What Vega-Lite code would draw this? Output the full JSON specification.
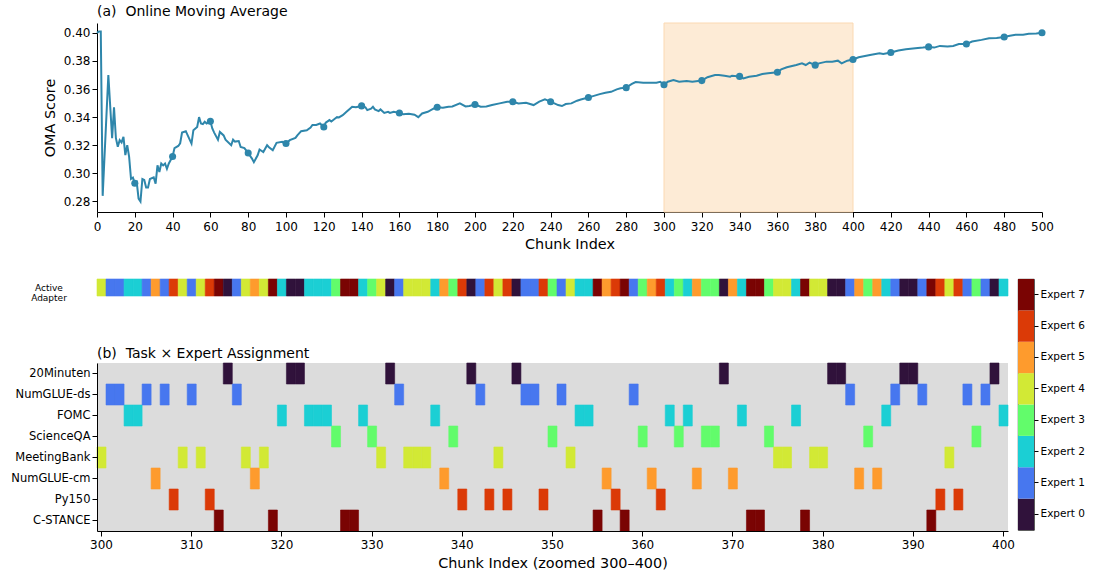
{
  "$schema": "https://vega.github.io/schema/vega-lite/v6.json",
  "padding": {"left": 10, "top": 4, "right": 5, "bottom": 5},
  "config": {
    "font": "DejaVu Sans",
    "view": {"stroke": null},
    "axis": {
      "domainColor": "#000", "tickColor": "#000", "labelColor": "#000", "titleColor": "#000",
      "labelFont": "DejaVu Sans", "titleFont": "DejaVu Sans", "titleFontWeight": "normal",
      "grid": false, "labelFontSize": 12, "titleFontSize": 14.4, "tickSize": 5,
      "domainWidth": 1, "tickWidth": 1, "labelOverlap": false
    },
    "title": {"font": "DejaVu Sans", "fontWeight": "normal", "fontSize": 14, "anchor": "start", "color": "#000", "frame": "group"}
  },
  "datasets": {
    "oma": [
      {"chunk": 0, "oma": 0.400}, {"chunk": 1, "oma": 0.401}, {"chunk": 2, "oma": 0.401},
      {"chunk": 3, "oma": 0.284}, {"chunk": 6, "oma": 0.370}, {"chunk": 8, "oma": 0.325},
      {"chunk": 9, "oma": 0.347}, {"chunk": 10, "oma": 0.325}, {"chunk": 11, "oma": 0.319},
      {"chunk": 12, "oma": 0.3236}, {"chunk": 13, "oma": 0.322}, {"chunk": 14, "oma": 0.326},
      {"chunk": 15, "oma": 0.313}, {"chunk": 16, "oma": 0.320}, {"chunk": 17, "oma": 0.3117},
      {"chunk": 18, "oma": 0.296}, {"chunk": 19, "oma": 0.297}, {"chunk": 20, "oma": 0.293},
      {"chunk": 21, "oma": 0.294}, {"chunk": 22, "oma": 0.282}, {"chunk": 23, "oma": 0.280},
      {"chunk": 24, "oma": 0.296}, {"chunk": 25, "oma": 0.2953}, {"chunk": 26, "oma": 0.290},
      {"chunk": 27, "oma": 0.290}, {"chunk": 28, "oma": 0.296}, {"chunk": 30, "oma": 0.2972},
      {"chunk": 31, "oma": 0.2926}, {"chunk": 32, "oma": 0.3057}, {"chunk": 33, "oma": 0.301},
      {"chunk": 34, "oma": 0.307}, {"chunk": 35, "oma": 0.3057}, {"chunk": 36, "oma": 0.307},
      {"chunk": 37, "oma": 0.3033}, {"chunk": 38, "oma": 0.307}, {"chunk": 40, "oma": 0.312},
      {"chunk": 41, "oma": 0.318}, {"chunk": 43, "oma": 0.3195}, {"chunk": 44, "oma": 0.3214},
      {"chunk": 45, "oma": 0.329}, {"chunk": 47, "oma": 0.330}, {"chunk": 48, "oma": 0.327},
      {"chunk": 50, "oma": 0.3212}, {"chunk": 51, "oma": 0.3307}, {"chunk": 53, "oma": 0.333},
      {"chunk": 54, "oma": 0.340}, {"chunk": 55, "oma": 0.3355}, {"chunk": 56, "oma": 0.335},
      {"chunk": 57, "oma": 0.3367}, {"chunk": 58, "oma": 0.3355}, {"chunk": 60, "oma": 0.337},
      {"chunk": 61, "oma": 0.332}, {"chunk": 62, "oma": 0.329}, {"chunk": 64, "oma": 0.324},
      {"chunk": 65, "oma": 0.3295}, {"chunk": 67, "oma": 0.327}, {"chunk": 68, "oma": 0.324},
      {"chunk": 71, "oma": 0.320}, {"chunk": 72, "oma": 0.324}, {"chunk": 73, "oma": 0.3226},
      {"chunk": 75, "oma": 0.323}, {"chunk": 76, "oma": 0.3188}, {"chunk": 78, "oma": 0.318},
      {"chunk": 80, "oma": 0.3145}, {"chunk": 82, "oma": 0.3105}, {"chunk": 83, "oma": 0.308},
      {"chunk": 85, "oma": 0.3129}, {"chunk": 86, "oma": 0.317}, {"chunk": 88, "oma": 0.3152},
      {"chunk": 90, "oma": 0.320}, {"chunk": 91, "oma": 0.3186}, {"chunk": 93, "oma": 0.3164},
      {"chunk": 95, "oma": 0.3217}, {"chunk": 98, "oma": 0.3224}, {"chunk": 100, "oma": 0.3212},
      {"chunk": 102, "oma": 0.3236}, {"chunk": 105, "oma": 0.3252}, {"chunk": 106, "oma": 0.327},
      {"chunk": 108, "oma": 0.330}, {"chunk": 111, "oma": 0.3307}, {"chunk": 113, "oma": 0.3326},
      {"chunk": 114, "oma": 0.3345}, {"chunk": 116, "oma": 0.3345}, {"chunk": 118, "oma": 0.3355},
      {"chunk": 120, "oma": 0.333}, {"chunk": 121, "oma": 0.336}, {"chunk": 123, "oma": 0.3379},
      {"chunk": 124, "oma": 0.3369}, {"chunk": 126, "oma": 0.339}, {"chunk": 127, "oma": 0.340},
      {"chunk": 128, "oma": 0.3398}, {"chunk": 130, "oma": 0.3414}, {"chunk": 131, "oma": 0.3426},
      {"chunk": 132, "oma": 0.3438}, {"chunk": 134, "oma": 0.3462}, {"chunk": 135, "oma": 0.3474},
      {"chunk": 137, "oma": 0.3471}, {"chunk": 140, "oma": 0.348}, {"chunk": 142, "oma": 0.347},
      {"chunk": 143, "oma": 0.345}, {"chunk": 145, "oma": 0.346}, {"chunk": 146, "oma": 0.3474},
      {"chunk": 147, "oma": 0.3455}, {"chunk": 149, "oma": 0.3443}, {"chunk": 150, "oma": 0.3455},
      {"chunk": 152, "oma": 0.343}, {"chunk": 154, "oma": 0.3438}, {"chunk": 155, "oma": 0.343},
      {"chunk": 157, "oma": 0.3438}, {"chunk": 160, "oma": 0.343}, {"chunk": 162, "oma": 0.3421},
      {"chunk": 165, "oma": 0.3424}, {"chunk": 168, "oma": 0.3417}, {"chunk": 170, "oma": 0.340},
      {"chunk": 172, "oma": 0.3426}, {"chunk": 175, "oma": 0.3438}, {"chunk": 178, "oma": 0.346},
      {"chunk": 180, "oma": 0.347}, {"chunk": 183, "oma": 0.3467}, {"chunk": 186, "oma": 0.3474},
      {"chunk": 188, "oma": 0.3476}, {"chunk": 192, "oma": 0.3498}, {"chunk": 195, "oma": 0.3476},
      {"chunk": 197, "oma": 0.348}, {"chunk": 200, "oma": 0.349}, {"chunk": 203, "oma": 0.3474},
      {"chunk": 206, "oma": 0.3476}, {"chunk": 209, "oma": 0.3486}, {"chunk": 213, "oma": 0.3498},
      {"chunk": 217, "oma": 0.351}, {"chunk": 220, "oma": 0.351}, {"chunk": 223, "oma": 0.3498},
      {"chunk": 227, "oma": 0.3502}, {"chunk": 231, "oma": 0.3486}, {"chunk": 234, "oma": 0.351},
      {"chunk": 237, "oma": 0.3526}, {"chunk": 240, "oma": 0.351}, {"chunk": 244, "oma": 0.3486},
      {"chunk": 246, "oma": 0.3479}, {"chunk": 248, "oma": 0.3493}, {"chunk": 251, "oma": 0.3498},
      {"chunk": 254, "oma": 0.3517}, {"chunk": 256, "oma": 0.3526}, {"chunk": 260, "oma": 0.354},
      {"chunk": 262, "oma": 0.3548}, {"chunk": 266, "oma": 0.3564}, {"chunk": 269, "oma": 0.3574},
      {"chunk": 272, "oma": 0.358}, {"chunk": 275, "oma": 0.3598}, {"chunk": 277, "oma": 0.3605},
      {"chunk": 280, "oma": 0.361}, {"chunk": 283, "oma": 0.3636}, {"chunk": 285, "oma": 0.365},
      {"chunk": 289, "oma": 0.3645}, {"chunk": 292, "oma": 0.3645}, {"chunk": 296, "oma": 0.3645},
      {"chunk": 298, "oma": 0.3652}, {"chunk": 300, "oma": 0.363}, {"chunk": 302, "oma": 0.3652},
      {"chunk": 305, "oma": 0.3664}, {"chunk": 308, "oma": 0.3652}, {"chunk": 312, "oma": 0.3657},
      {"chunk": 315, "oma": 0.3652}, {"chunk": 320, "oma": 0.366}, {"chunk": 323, "oma": 0.3684},
      {"chunk": 327, "oma": 0.370}, {"chunk": 329, "oma": 0.370}, {"chunk": 332, "oma": 0.3695},
      {"chunk": 335, "oma": 0.3688}, {"chunk": 336, "oma": 0.3695}, {"chunk": 340, "oma": 0.369},
      {"chunk": 342, "oma": 0.3676}, {"chunk": 345, "oma": 0.3688}, {"chunk": 349, "oma": 0.3695},
      {"chunk": 352, "oma": 0.3707}, {"chunk": 355, "oma": 0.3712}, {"chunk": 360, "oma": 0.372},
      {"chunk": 362, "oma": 0.374}, {"chunk": 365, "oma": 0.3755}, {"chunk": 370, "oma": 0.3771},
      {"chunk": 373, "oma": 0.3783}, {"chunk": 375, "oma": 0.3771}, {"chunk": 377, "oma": 0.3788},
      {"chunk": 380, "oma": 0.377}, {"chunk": 382, "oma": 0.3783}, {"chunk": 386, "oma": 0.3795},
      {"chunk": 389, "oma": 0.3795}, {"chunk": 392, "oma": 0.3802}, {"chunk": 394, "oma": 0.3783},
      {"chunk": 397, "oma": 0.3802}, {"chunk": 400, "oma": 0.381}, {"chunk": 403, "oma": 0.3826},
      {"chunk": 409, "oma": 0.3843}, {"chunk": 414, "oma": 0.3855}, {"chunk": 416, "oma": 0.385},
      {"chunk": 420, "oma": 0.386}, {"chunk": 424, "oma": 0.3874}, {"chunk": 428, "oma": 0.3883},
      {"chunk": 433, "oma": 0.389}, {"chunk": 437, "oma": 0.3895}, {"chunk": 440, "oma": 0.390},
      {"chunk": 443, "oma": 0.3895}, {"chunk": 446, "oma": 0.3907}, {"chunk": 450, "oma": 0.3902},
      {"chunk": 453, "oma": 0.3907}, {"chunk": 456, "oma": 0.3921}, {"chunk": 460, "oma": 0.392},
      {"chunk": 463, "oma": 0.3938}, {"chunk": 468, "oma": 0.395}, {"chunk": 472, "oma": 0.3962},
      {"chunk": 476, "oma": 0.3964}, {"chunk": 480, "oma": 0.397}, {"chunk": 483, "oma": 0.3979},
      {"chunk": 486, "oma": 0.3986}, {"chunk": 490, "oma": 0.3986}, {"chunk": 493, "oma": 0.3993},
      {"chunk": 497, "oma": 0.3995}, {"chunk": 500, "oma": 0.400}
    ],
    "zoomWindow": [{"from": 300, "to": 400}],
    "assign": [
      {"chunk": 300, "task": "MeetingBank", "expert": 4}, {"chunk": 301, "task": "NumGLUE-ds", "expert": 1},
      {"chunk": 302, "task": "NumGLUE-ds", "expert": 1}, {"chunk": 303, "task": "FOMC", "expert": 2},
      {"chunk": 304, "task": "FOMC", "expert": 2}, {"chunk": 305, "task": "NumGLUE-ds", "expert": 1},
      {"chunk": 306, "task": "NumGLUE-cm", "expert": 5}, {"chunk": 307, "task": "NumGLUE-ds", "expert": 1},
      {"chunk": 308, "task": "Py150", "expert": 6}, {"chunk": 309, "task": "MeetingBank", "expert": 4},
      {"chunk": 310, "task": "NumGLUE-ds", "expert": 1}, {"chunk": 311, "task": "MeetingBank", "expert": 4},
      {"chunk": 312, "task": "Py150", "expert": 6}, {"chunk": 313, "task": "C-STANCE", "expert": 7},
      {"chunk": 314, "task": "20Minuten", "expert": 0}, {"chunk": 315, "task": "NumGLUE-ds", "expert": 1},
      {"chunk": 316, "task": "MeetingBank", "expert": 4}, {"chunk": 317, "task": "NumGLUE-cm", "expert": 5},
      {"chunk": 318, "task": "MeetingBank", "expert": 4}, {"chunk": 319, "task": "C-STANCE", "expert": 7},
      {"chunk": 320, "task": "FOMC", "expert": 2}, {"chunk": 321, "task": "20Minuten", "expert": 0},
      {"chunk": 322, "task": "20Minuten", "expert": 0}, {"chunk": 323, "task": "FOMC", "expert": 2},
      {"chunk": 324, "task": "FOMC", "expert": 2}, {"chunk": 325, "task": "FOMC", "expert": 2},
      {"chunk": 326, "task": "ScienceQA", "expert": 3}, {"chunk": 327, "task": "C-STANCE", "expert": 7},
      {"chunk": 328, "task": "C-STANCE", "expert": 7}, {"chunk": 329, "task": "FOMC", "expert": 2},
      {"chunk": 330, "task": "ScienceQA", "expert": 3}, {"chunk": 331, "task": "MeetingBank", "expert": 4},
      {"chunk": 332, "task": "20Minuten", "expert": 0}, {"chunk": 333, "task": "NumGLUE-ds", "expert": 1},
      {"chunk": 334, "task": "MeetingBank", "expert": 4}, {"chunk": 335, "task": "MeetingBank", "expert": 4},
      {"chunk": 336, "task": "MeetingBank", "expert": 4}, {"chunk": 337, "task": "FOMC", "expert": 2},
      {"chunk": 338, "task": "NumGLUE-cm", "expert": 5}, {"chunk": 339, "task": "ScienceQA", "expert": 3},
      {"chunk": 340, "task": "Py150", "expert": 6}, {"chunk": 341, "task": "20Minuten", "expert": 0},
      {"chunk": 342, "task": "NumGLUE-ds", "expert": 1}, {"chunk": 343, "task": "Py150", "expert": 6},
      {"chunk": 344, "task": "MeetingBank", "expert": 4}, {"chunk": 345, "task": "Py150", "expert": 6},
      {"chunk": 346, "task": "20Minuten", "expert": 0}, {"chunk": 347, "task": "NumGLUE-ds", "expert": 1},
      {"chunk": 348, "task": "NumGLUE-ds", "expert": 1}, {"chunk": 349, "task": "Py150", "expert": 6},
      {"chunk": 350, "task": "ScienceQA", "expert": 3}, {"chunk": 351, "task": "NumGLUE-ds", "expert": 1},
      {"chunk": 352, "task": "MeetingBank", "expert": 4}, {"chunk": 353, "task": "FOMC", "expert": 2},
      {"chunk": 354, "task": "FOMC", "expert": 2}, {"chunk": 355, "task": "C-STANCE", "expert": 7},
      {"chunk": 356, "task": "NumGLUE-cm", "expert": 5}, {"chunk": 357, "task": "Py150", "expert": 6},
      {"chunk": 358, "task": "C-STANCE", "expert": 7}, {"chunk": 359, "task": "NumGLUE-ds", "expert": 1},
      {"chunk": 360, "task": "ScienceQA", "expert": 3}, {"chunk": 361, "task": "NumGLUE-cm", "expert": 5},
      {"chunk": 362, "task": "Py150", "expert": 6}, {"chunk": 363, "task": "FOMC", "expert": 2},
      {"chunk": 364, "task": "ScienceQA", "expert": 3}, {"chunk": 365, "task": "FOMC", "expert": 2},
      {"chunk": 366, "task": "NumGLUE-cm", "expert": 5}, {"chunk": 367, "task": "ScienceQA", "expert": 3},
      {"chunk": 368, "task": "ScienceQA", "expert": 3}, {"chunk": 369, "task": "20Minuten", "expert": 0},
      {"chunk": 370, "task": "NumGLUE-cm", "expert": 5}, {"chunk": 371, "task": "FOMC", "expert": 2},
      {"chunk": 372, "task": "C-STANCE", "expert": 7}, {"chunk": 373, "task": "C-STANCE", "expert": 7},
      {"chunk": 374, "task": "ScienceQA", "expert": 3}, {"chunk": 375, "task": "MeetingBank", "expert": 4},
      {"chunk": 376, "task": "MeetingBank", "expert": 4}, {"chunk": 377, "task": "FOMC", "expert": 2},
      {"chunk": 378, "task": "C-STANCE", "expert": 7}, {"chunk": 379, "task": "MeetingBank", "expert": 4},
      {"chunk": 380, "task": "MeetingBank", "expert": 4}, {"chunk": 381, "task": "20Minuten", "expert": 0},
      {"chunk": 382, "task": "20Minuten", "expert": 0}, {"chunk": 383, "task": "NumGLUE-ds", "expert": 1},
      {"chunk": 384, "task": "NumGLUE-cm", "expert": 5}, {"chunk": 385, "task": "ScienceQA", "expert": 3},
      {"chunk": 386, "task": "NumGLUE-cm", "expert": 5}, {"chunk": 387, "task": "FOMC", "expert": 2},
      {"chunk": 388, "task": "NumGLUE-ds", "expert": 1}, {"chunk": 389, "task": "20Minuten", "expert": 0},
      {"chunk": 390, "task": "20Minuten", "expert": 0}, {"chunk": 391, "task": "NumGLUE-ds", "expert": 1},
      {"chunk": 392, "task": "C-STANCE", "expert": 7}, {"chunk": 393, "task": "Py150", "expert": 6},
      {"chunk": 394, "task": "MeetingBank", "expert": 4}, {"chunk": 395, "task": "Py150", "expert": 6},
      {"chunk": 396, "task": "NumGLUE-ds", "expert": 1}, {"chunk": 397, "task": "ScienceQA", "expert": 3},
      {"chunk": 398, "task": "NumGLUE-ds", "expert": 1}, {"chunk": 399, "task": "20Minuten", "expert": 0},
      {"chunk": 400, "task": "FOMC", "expert": 2}
    ],
    "experts": [
      {"expert": 0}, {"expert": 1}, {"expert": 2}, {"expert": 3},
      {"expert": 4}, {"expert": 5}, {"expert": 6}, {"expert": 7}
    ]
  },
  "spacing": 27,
  "vconcat": [
    {
      "title": {"text": "(a)\u00a0 Online Moving Average", "offset": 4},
      "width": 945,
      "height": 189,
      "layer": [
        {
          "data": {"name": "zoomWindow"},
          "mark": {"type": "rect", "color": "#fdebd6", "stroke": "#fbd9b2", "strokeWidth": 1},
          "encoding": {
            "x": {"field": "from", "type": "quantitative", "scale": {"domain": [0, 500], "nice": false},
                  "axis": {"title": "Chunk Index", "values": [0,20,40,60,80,100,120,140,160,180,200,220,240,260,280,300,320,340,360,380,400,420,440,460,480,500], "tickCount": 40, "labelFlush": false, "labelOverlap": false, "labelPadding": 4, "titlePadding": 5}},
            "x2": {"field": "to"}
          }
        },
        {
          "data": {"name": "oma"},
          "mark": {"type": "line", "color": "#2e86ab", "strokeWidth": 2, "interpolate": "linear"},
          "encoding": {
            "x": {"field": "chunk", "type": "quantitative", "scale": {"domain": [0, 500], "nice": false},
                  "axis": {"title": "Chunk Index", "values": [0,20,40,60,80,100,120,140,160,180,200,220,240,260,280,300,320,340,360,380,400,420,440,460,480,500], "tickCount": 40, "labelFlush": false, "labelOverlap": false, "labelPadding": 4, "titlePadding": 5}},
            "y": {"field": "oma", "type": "quantitative", "scale": {"domain": [0.2725, 0.407], "nice": false, "zero": false},
                  "axis": {"title": "OMA Score", "values": [0.28, 0.30, 0.32, 0.34, 0.36, 0.38, 0.40], "tickCount": 12, "format": ".2f", "labelFlush": false, "labelOverlap": false, "titlePadding": 6}}
          }
        },
        {
          "data": {"name": "oma"},
          "transform": [{"filter": "datum.chunk > 0 && datum.chunk % 20 == 0"}],
          "mark": {"type": "point", "filled": true, "color": "#2e86ab", "size": 50, "opacity": 1},
          "encoding": {
            "x": {"field": "chunk", "type": "quantitative"},
            "y": {"field": "oma", "type": "quantitative"}
          }
        }
      ]
    },
    {
      "spacing": 2,
      "hconcat": [
        {
          "spacing": 43,
          "vconcat": [
            {
              "data": {"name": "assign"},
              "title": {"text": ["Active", "Adapter"], "orient": "left", "angle": 0, "fontSize": 9, "align": "center", "baseline": "middle", "anchor": "middle", "offset": 12, "lineHeight": 10.5, "frame": "bounds"},
              "width": 911,
              "height": 17,
              "mark": {"type": "rect", "strokeWidth": 0.6},
              "encoding": {
                "x": {"field": "chunk", "type": "ordinal", "scale": {"paddingInner": 0, "paddingOuter": 0}, "axis": null},
                "color": {"field": "expert", "type": "nominal",
                          "scale": {"domain": [0,1,2,3,4,5,6,7], "range": ["#30123b", "#4777ef", "#1bcfd4", "#62fc6b", "#d2e935", "#fe9b2d", "#db3a07", "#7a0403"]},
                          "legend": null},
                "stroke": {"field": "expert", "type": "nominal",
                          "scale": {"domain": [0,1,2,3,4,5,6,7], "range": ["#30123b", "#4777ef", "#1bcfd4", "#62fc6b", "#d2e935", "#fe9b2d", "#db3a07", "#7a0403"]},
                          "legend": null}
              }
            },
            {
              "data": {"name": "assign"},
              "title": {"text": "(b)\u00a0 Task × Expert Assignment", "offset": 2},
              "width": 911,
              "height": 168,
              "view": {"fill": "#dcdcdc", "stroke": null},
              "mark": {"type": "rect", "strokeWidth": 0.6},
              "encoding": {
                "x": {"field": "chunk", "type": "ordinal", "scale": {"paddingInner": 0, "paddingOuter": 0},
                      "axis": {"title": "Chunk Index (zoomed 300–400)", "values": [300,310,320,330,340,350,360,370,380,390,400], "labelAngle": 0, "labelPadding": 3, "titlePadding": 6}},
                "y": {"field": "task", "type": "nominal",
                      "sort": ["20Minuten", "NumGLUE-ds", "FOMC", "ScienceQA", "MeetingBank", "NumGLUE-cm", "Py150", "C-STANCE"],
                      "scale": {"paddingInner": 0, "paddingOuter": 0},
                      "axis": {"title": null, "labelFontSize": 11.5}},
                "color": {"field": "expert", "type": "nominal",
                          "scale": {"domain": [0,1,2,3,4,5,6,7], "range": ["#30123b", "#4777ef", "#1bcfd4", "#62fc6b", "#d2e935", "#fe9b2d", "#db3a07", "#7a0403"]},
                          "legend": null},
                "stroke": {"field": "expert", "type": "nominal",
                          "scale": {"domain": [0,1,2,3,4,5,6,7], "range": ["#30123b", "#4777ef", "#1bcfd4", "#62fc6b", "#d2e935", "#fe9b2d", "#db3a07", "#7a0403"]},
                          "legend": null}
              }
            }
          ]
        },
        {
          "data": {"name": "experts"},
          "width": 16,
          "height": 251,
          "view": {"stroke": "#000", "strokeWidth": 0.8},
          "mark": {"type": "rect"},
          "encoding": {
            "y": {"field": "expert", "type": "ordinal", "sort": "descending",
                  "scale": {"paddingInner": 0, "paddingOuter": 0},
                  "axis": {"orient": "right", "title": null, "domain": false, "labelExpr": "'Expert ' + datum.value", "labelFontSize": 10.5, "tickSize": 4}},
            "color": {"field": "expert", "type": "nominal",
                      "scale": {"domain": [0,1,2,3,4,5,6,7], "range": ["#30123b", "#4777ef", "#1bcfd4", "#62fc6b", "#d2e935", "#fe9b2d", "#db3a07", "#7a0403"]},
                      "legend": null}
          }
        }
      ]
    }
  ]
}
